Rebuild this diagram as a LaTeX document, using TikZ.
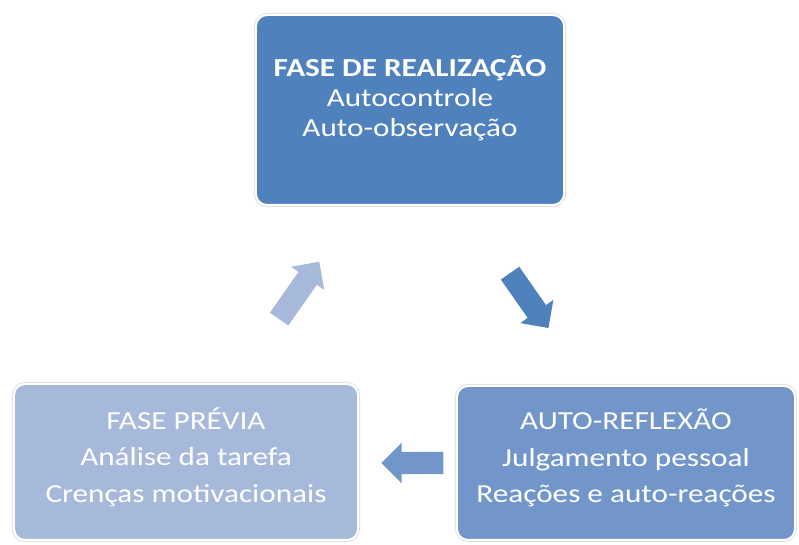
\documentclass[tikz,border=0pt]{standalone}
\usepackage{fontspec}
\setmainfont{Carlito}
\usetikzlibrary{shapes.arrows}

\definecolor{phaseDark}{RGB}{79,129,189}
\definecolor{phaseMid}{RGB}{115,150,202}
\definecolor{phaseLight}{RGB}{167,185,219}

\begin{document}
\begin{tikzpicture}[
                x=1pt, y=1pt,
                PhaseBox/.style={rounded corners=11pt, text=white, align=center, inner sep=0pt,
                    xscale=1.2, draw=white, line width=2pt,
                    preaction={draw=black!12, line width=4pt}},
                PhaseText/.style={font=\fontsize{26}{36.5}\selectfont},
                BlockArrow/.style={single arrow, inner xsep=0pt, inner ysep=11pt, single arrow head extend=9pt,
                    single arrow head indent=0pt, outer sep=0pt},
            ]
            \useasboundingbox (0,0) rectangle (799,545);

            \node [PhaseBox, fill=phaseDark, minimum width=256.7pt, minimum height=190pt, text depth=28pt,
                   font=\fontsize{26}{30}\selectfont] (realizacao) at (410,435)
                {\textbf{FASE DE REALIZAÇÃO}\\Autocontrole\\Auto-observação};
            \node [PhaseBox, PhaseText, fill=phaseLight, minimum width=286.7pt, minimum height=156pt, text depth=14pt] (previa) at (186,83)
                {FASE PRÉVIA\\Análise da tarefa\\Crenças motivacionais};
            \node [PhaseBox, PhaseText, fill=phaseMid, minimum width=281.7pt, minimum height=154pt, text depth=14pt] (reflexao) at (626,82)
                {AUTO-REFLEXÃO\\Julgamento pessoal\\Reações e auto-reações};

            \node [BlockArrow, fill=phaseLight, minimum height=70pt, rotate=55] (subida) at (296,250) {};
            \node [BlockArrow, fill=phaseDark, minimum height=67pt, rotate=-55] (descida) at (526,249) {};
            \node [BlockArrow, fill=phaseMid, minimum height=62pt, rotate=180] (retorno) at (418,82) {};
        \end{tikzpicture}
\end{document}
